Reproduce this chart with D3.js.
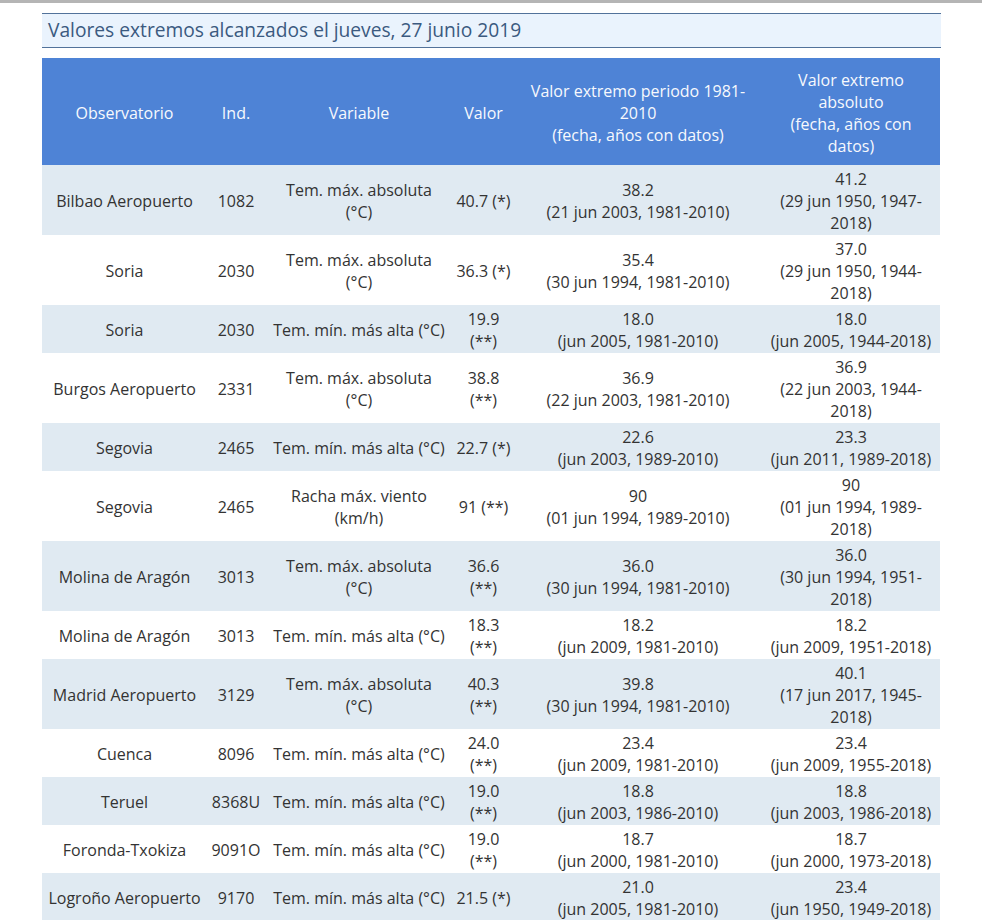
<!DOCTYPE html>
<html>
<head>
<meta charset="utf-8">
<script src="https://cdn.jsdelivr.net/npm/d3@7"></script>
<style>
  body { margin: 0; background: #fff; }
  svg { display: block; font-family: "Open Sans", sans-serif; }
</style>
</head>
<body>
<div id="tabla"></div>
<script>
// datos de la tabla
var titulo = "Valores extremos alcanzados el jueves, 27 junio 2019";

var cabeceras = [
    ["Observatorio"],
    ["Ind."],
    ["Variable"],
    ["Valor"],
    ["Valor extremo periodo 1981-2010", "(fecha, años con datos)"],
    ["Valor extremo absoluto", "(fecha, años con datos)"]
];

var observatorios = ["Bilbao Aeropuerto", "Soria", "Soria", "Burgos Aeropuerto", "Segovia", "Segovia",
    "Molina de Aragón", "Molina de Aragón", "Madrid Aeropuerto", "Cuenca", "Teruel", "Foronda-Txokiza", "Logroño Aeropuerto"];

var indicativos = ["1082", "2030", "2030", "2331", "2465", "2465", "3013", "3013", "3129", "8096", "8368U", "9091O", "9170"];

var variables = ["Tem. máx. absoluta (°C)", "Tem. máx. absoluta (°C)", "Tem. mín. más alta (°C)",
    "Tem. máx. absoluta (°C)", "Tem. mín. más alta (°C)", "Racha máx. viento (km/h)",
    "Tem. máx. absoluta (°C)", "Tem. mín. más alta (°C)", "Tem. máx. absoluta (°C)",
    "Tem. mín. más alta (°C)", "Tem. mín. más alta (°C)", "Tem. mín. más alta (°C)", "Tem. mín. más alta (°C)"];

var valores = ["40.7", "36.3", "19.9", "38.8", "22.7", "91", "36.6", "18.3", "40.3", "24.0", "19.0", "19.0", "21.5"];
var marcas = ["(*)", "(*)", "(**)", "(**)", "(*)", "(**)", "(**)", "(**)", "(**)", "(**)", "(**)", "(**)", "(*)"];

var periodoValor = ["38.2", "35.4", "18.0", "36.9", "22.6", "90", "36.0", "18.2", "39.8", "23.4", "18.8", "18.7", "21.0"];
var periodoFecha = ["21 jun 2003, 1981-2010", "30 jun 1994, 1981-2010", "jun 2005, 1981-2010", "22 jun 2003, 1981-2010",
    "jun 2003, 1989-2010", "01 jun 1994, 1989-2010", "30 jun 1994, 1981-2010", "jun 2009, 1981-2010",
    "30 jun 1994, 1981-2010", "jun 2009, 1981-2010", "jun 2003, 1986-2010", "jun 2000, 1981-2010", "jun 2005, 1981-2010"];

var absolutoValor = ["41.2", "37.0", "18.0", "36.9", "23.3", "90", "36.0", "18.2", "40.1", "23.4", "18.8", "18.7", "23.4"];
var absolutoFecha = ["29 jun 1950, 1947-2018", "29 jun 1950, 1944-2018", "jun 2005, 1944-2018", "22 jun 2003, 1944-2018",
    "jun 2011, 1989-2018", "01 jun 1994, 1989-2018", "30 jun 1994, 1951-2018", "jun 2009, 1951-2018",
    "17 jun 2017, 1945-2018", "jun 2009, 1955-2018", "jun 2003, 1986-2018", "jun 2000, 1973-2018", "jun 1950, 1949-2018"];

// cada celda es una lista de parrafos (separados por <br> en el original)
var filas = observatorios.map(function(d, i) {
    return [
        [d],
        [indicativos[i]],
        [variables[i]],
        [valores[i] + " " + marcas[i]],
        [periodoValor[i], "(" + periodoFecha[i] + ")"],
        [absolutoValor[i], "(" + absolutoFecha[i] + ")"]
    ];
});

// maquetacion
var W = 982, H = 920;
var left = 42, right = 940;
var colW = [165, 58, 188, 61, 248, 178];
var wrapW = [157, 54, 174, 58, 232, 165];
var lineH = 22, fontSize = 16;
var headTop = 58, headPad = 9.5, bodyPad = 2;

// inicio de cada columna
var colX = Array.from(d3.cumsum([left].concat(colW)));
colX.pop();

var svg = d3.select("#tabla").append("svg")
    .attr("width", W)
    .attr("height", H);

// barra gris superior
svg.append("rect")
    .attr("x", 0).attr("y", 0)
    .attr("width", W).attr("height", 3)
    .attr("fill", "#b5b5b5");

// titulo
svg.append("rect")
    .attr("x", left).attr("y", 13)
    .attr("width", 899).attr("height", 34)
    .attr("fill", "#eaf3fd");

svg.selectAll("line.borde")
    .data([13.5, 47.5])
    .enter().append("line")
    .attr("class", "borde")
    .attr("x1", left).attr("x2", 941)
    .attr("y1", function(d){ return d; })
    .attr("y2", function(d){ return d; })
    .attr("stroke", "#52729a")
    .attr("stroke-width", 1);

svg.append("text")
    .attr("x", 48)
    .attr("y", 37)
    .attr("font-size", "19.2px")
    .attr("fill", "#3b5a80")
    .text(titulo);

// medir y partir texto como lo haria el navegador
var medidor = svg.append("text")
    .attr("font-size", fontSize + "px")
    .attr("visibility", "hidden");

function ancho(s) {
    medidor.text(s);
    return medidor.node().getComputedTextLength();
}

function partir(parrafos, max) {
    var lineas = [];
    parrafos.forEach(function(p) {
        var trozos = p.split(/(?<=[ -])/);
        var actual = "";
        trozos.forEach(function(t) {
            var prueba = actual + t;
            if (actual && ancho(prueba.trim()) > max) {
                lineas.push(actual.trim());
                actual = t;
            } else {
                actual = prueba;
            }
        });
        lineas.push(actual.trim());
    });
    return lineas;
}

function maquetar(celdas) {
    return celdas.map(function(c, j){ return partir(c, wrapW[j]); });
}

var cabLineas = maquetar(cabeceras);
var cabH = d3.max(cabLineas, function(l){ return l.length; }) * lineH + 2 * headPad;

var filasLineas = filas.map(maquetar);
var filasH = filasLineas.map(function(f){ return d3.max(f, function(l){ return l.length; }) * lineH + 2 * bodyPad; });
var filasY = Array.from(d3.cumsum([headTop + cabH].concat(filasH)));
filasY.pop();

medidor.remove();

var todas = [{lineas: cabLineas, y: headTop, h: cabH, cab: true, i: -1}].concat(
    filasLineas.map(function(l, i){ return {lineas: l, y: filasY[i], h: filasH[i], cab: false, i: i}; })
);

function fondo(d) {
    if (d.cab) return "#4e83d6";
    return d.i % 2 === 0 ? "#e0eaf2" : "#ffffff";
}

var fila = svg.selectAll("g.fila")
    .data(todas)
    .enter().append("g")
    .attr("class", "fila")
    .attr("transform", function(d){ return "translate(0," + d.y + ")"; });

fila.append("rect")
    .attr("x", left)
    .attr("width", right - left)
    .attr("height", function(d){ return d.h; })
    .attr("fill", fondo);

fila.each(function(d) {
    var g = d3.select(this);
    g.selectAll("text")
        .data(d.lineas)
        .enter().append("text")
        .attr("x", function(l, j){ return colX[j] + colW[j] / 2; })
        .attr("text-anchor", "middle")
        .attr("font-size", fontSize + "px")
        .attr("fill", d.cab ? "#f7f9fd" : "#333333")
        .each(function(l) {
            var top = (d.h - l.length * lineH) / 2;
            var x = d3.select(this).attr("x");
            d3.select(this).selectAll("tspan")
                .data(l)
                .enter().append("tspan")
                .attr("x", x)
                .attr("y", function(s, k){ return top + k * lineH + 18; })
                .text(function(s){ return s; });
        });
});
</script>
</body>
</html>
